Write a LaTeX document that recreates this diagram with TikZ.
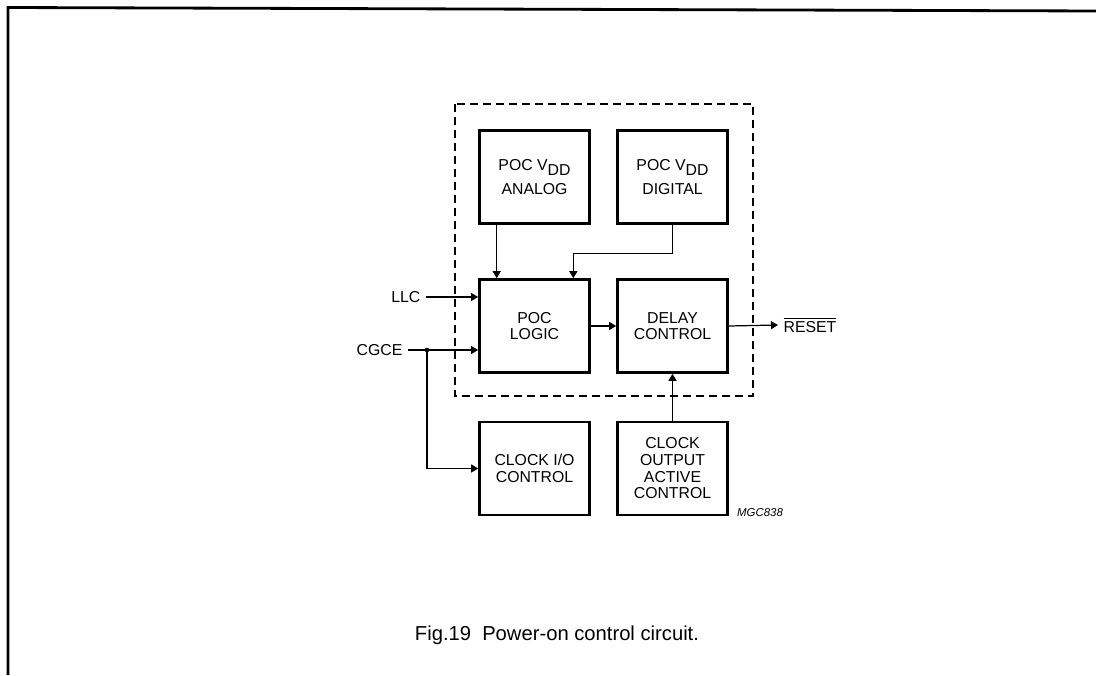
\documentclass[tikz,border=0pt]{standalone}
\usepackage{fontspec}
\setmainfont{Liberation Sans}
\usepackage{tikz}
\usetikzlibrary{positioning,calc,arrows.meta}

\tikzset{
  blk/.style={draw, line width=1.5pt, minimum width=2.2cm, minimum height=1.86cm,
    align=center, inner sep=1pt, font=\fontsize{9}{9.5}\selectfont},
  sig/.style={line width=0.7pt},
  arr/.style={sig, -{Triangle[length=1.4mm,width=1.6mm]}},
  lbl/.style={font=\fontsize{9}{10}\selectfont, inner sep=3pt}
}
\newcommand{\vdd}{V\raisebox{-0.55ex}{DD}}

\begin{document}
\begin{tikzpicture}[x=0.2mm, y=-0.2mm]
  \useasboundingbox (0,0) rectangle (1096,675);

  % page frame
  \draw[line width=1.6pt] (8,675) -- (8,7.5) -- (1096,11);

  % dashed boundary
  \draw[line width=1.1pt, dash pattern=on 1.6mm off 1mm] (455,104) rectangle (753,396);

  % blocks
  \node[blk] (analog)  at (534.5,177)   {POC \vdd\\[4pt]ANALOG};
  \node[blk] (digital) at (672.5,177)   {POC \vdd\\[4pt]DIGITAL};
  \node[blk] (logic)   at (534.5,326)   {POC\\LOGIC};
  \node[blk] (delay)   at (672.5,326)   {DELAY\\CONTROL};
  \node[blk] (clkio)   at (534.5,468.5) {CLOCK I/O\\CONTROL};
  \node[blk] (clkout)  at (672.5,468.5) {CLOCK\\OUTPUT\\ACTIVE\\CONTROL};

  % inputs and output
  \node[lbl, anchor=east] (llc)  at (426,297) {LLC};
  \node[lbl, anchor=east] (cgce) at (408,350) {CGCE};
  \node[lbl, anchor=west] (reset) at (778,325) {$\overline{\hbox{RESET}}$};
  \coordinate (tap) at (427,350);

  \draw[arr] (llc) -- (logic.west |- llc);
  \draw[arr] (cgce) -- (logic.west |- cgce);
  \fill (tap) circle (1.3pt);
  \draw[arr] (tap) |- (clkio.west);

  % internal connections
  \draw[arr] ([xshift=3.7mm]analog.south west) -- ([xshift=3.7mm]logic.north west);
  \draw[arr] (digital.south) -- ++(0,29) -| ([xshift=-3.5mm]logic.north east);
  \draw[arr] (logic) -- (delay);
  \draw[arr] (delay.east) -- (reset.west);
  \draw[arr] (clkout) -- (delay);

  % labels
  \node[font=\fontsize{6.5}{7}\selectfont\itshape] (code) at (760,513) {MGC838};
  \node[font=\fontsize{11.5}{12}\selectfont] (caption) at (557,635)
    {Fig.19\hspace{0.55em}Power-on control circuit.};
\end{tikzpicture}
\end{document}
